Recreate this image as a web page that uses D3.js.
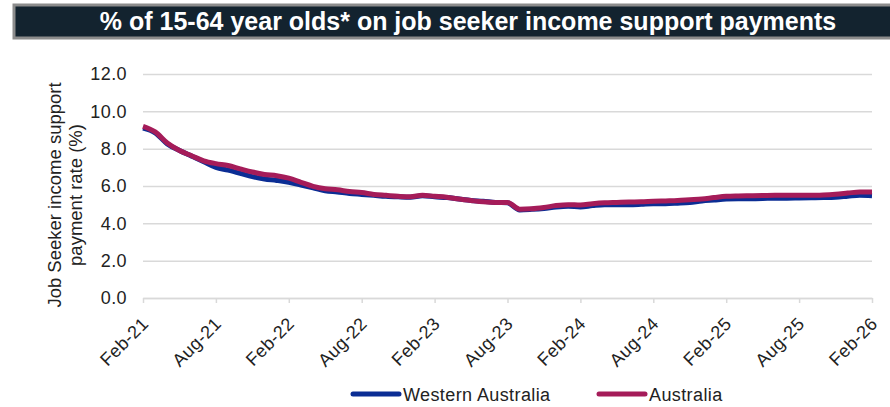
<!DOCTYPE html>
<html lang="en">
<head>
  <meta charset="UTF-8">
  <script src="https://d3js.org/d3.v7.min.js"></script>
  <title>Job seeker income support</title>
  <style>
    body { margin: 0; background: #fff; }
    text { font-family: Arial, "Liberation Sans", sans-serif; }
  </style>
</head>
<body>
  <script>
    // monthly categories
    const months = [
      "Feb-21","Mar-21","Apr-21","May-21","Jun-21","Jul-21","Aug-21","Sep-21","Oct-21","Nov-21","Dec-21","Jan-22",
      "Feb-22","Mar-22","Apr-22","May-22","Jun-22","Jul-22","Aug-22","Sep-22","Oct-22","Nov-22","Dec-22","Jan-23",
      "Feb-23","Mar-23","Apr-23","May-23","Jun-23","Jul-23","Aug-23","Sep-23","Oct-23","Nov-23","Dec-23","Jan-24",
      "Feb-24","Mar-24","Apr-24","May-24","Jun-24","Jul-24","Aug-24","Sep-24","Oct-24","Nov-24","Dec-24","Jan-25",
      "Feb-25","Mar-25","Apr-25","May-25","Jun-25","Jul-25","Aug-25","Sep-25","Oct-25","Nov-25","Dec-25","Jan-26",
      "Feb-26"
    ]

    const waValues = [
      9.10, 8.85, 8.25, 7.90, 7.60, 7.30, 7.00, 6.85, 6.68, 6.50, 6.38, 6.30,
      6.20, 6.05, 5.90, 5.75, 5.68, 5.60, 5.55, 5.50, 5.45, 5.42, 5.40, 5.48,
      5.42, 5.38, 5.30, 5.22, 5.18, 5.12, 5.10, 4.72, 4.75, 4.80, 4.88, 4.92,
      4.88, 4.95, 5.00, 5.00, 5.00, 5.02, 5.05, 5.05, 5.08, 5.12, 5.20, 5.25,
      5.30, 5.32, 5.32, 5.33, 5.35, 5.35, 5.36, 5.37, 5.38, 5.40, 5.45, 5.50,
      5.48
    ]

    const ausValues = [
      9.20, 8.90, 8.30, 7.90, 7.62, 7.35, 7.20, 7.10, 6.92, 6.75, 6.62, 6.55,
      6.42, 6.20, 5.98, 5.85, 5.80, 5.70, 5.65, 5.55, 5.50, 5.45, 5.42, 5.50,
      5.45, 5.40, 5.30, 5.22, 5.15, 5.12, 5.12, 4.76, 4.78, 4.85, 4.95, 5.00,
      4.98, 5.05, 5.10, 5.12, 5.14, 5.15, 5.18, 5.20, 5.22, 5.26, 5.30, 5.38,
      5.45, 5.47, 5.48, 5.49, 5.50, 5.50, 5.50, 5.50, 5.52, 5.56, 5.62, 5.68,
      5.68
    ]

    const xTickLabels = ["Feb-21","Aug-21","Feb-22","Aug-22","Feb-23","Aug-23","Feb-24","Aug-24","Feb-25","Aug-25","Feb-26"]
    const yTicks = [0, 2, 4, 6, 8, 10, 12]

    const seriesNames = ["Western Australia", "Australia"]
    const seriesColors = ["#0b2d94", "#a51c59"]

    /* canvas */
    const width = 890, height = 407
    const plotLeft = 143, plotRight = 872, plotTop = 74, plotBottom = 298
    const font = "Arial, 'Liberation Sans', sans-serif"

    const svg = d3.select("body").append("svg")
                  .attr("width", width)
                  .attr("height", height)

    /* title bar */
    svg.append("rect")
      .attr("x", 14).attr("y", 5)
      .attr("width", 890).attr("height", 33)
      .attr("fill", "#13232f")
      .attr("stroke", "#8c8c8c")
      .attr("stroke-width", 3)

    svg.append("text")
      .attr("x", 468).attr("y", 30)
      .attr("text-anchor", "middle")
      .attr("fill", "#fff")
      .attr("font-size", 25)
      .attr("font-weight", "bold")
      .text("% of 15-64 year olds* on job seeker income support payments")

    /* scales */
    const xScale = d3.scalePoint().domain(months).range([plotLeft, plotRight])
    const yScale = d3.scaleLinear().domain([0, 12]).range([plotBottom, plotTop])

    /* y axis + gridlines */
    const yAxis = d3.axisLeft(yScale)
                    .tickValues(yTicks)
                    .tickSize(-(plotRight - plotLeft))
                    .tickPadding(16)
                    .tickFormat(d3.format(".1f"))

    const gy = svg.append("g")
      .attr("transform", `translate(${plotLeft}, 0)`)
      .call(yAxis)
    gy.select(".domain").remove()
    gy.selectAll("line").attr("stroke", "#d9d9d9").attr("stroke-width", 1.5)
    gy.selectAll("text")
      .attr("font-size", 18).attr("fill", "#222")
      .attr("font-family", font).attr("letter-spacing", 0.4)

    /* x axis */
    const xAxis = d3.axisBottom(xScale)
                    .tickValues(xTickLabels)
                    .tickSize(5)
                    .tickSizeOuter(0)

    const gx = svg.append("g")
      .attr("transform", `translate(0, ${plotBottom})`)
      .call(xAxis)
    gx.select(".domain").attr("stroke", "#d9d9d9").attr("stroke-width", 1.5)
    gx.selectAll("line").attr("stroke", "#d9d9d9").attr("stroke-width", 1.5)
    gx.selectAll("text")
      .attr("font-size", 18)
      .attr("fill", "#222")
      .attr("font-family", font)
      .attr("letter-spacing", 0.4)
      .attr("text-anchor", "end")
      .attr("dy", null)
      .attr("y", 0)
      .attr("transform", "translate(6, 27) rotate(-45)")

    /* y axis title */
    const yTitle = svg.append("text")
      .attr("transform", "translate(61, 195) rotate(-90)")
      .attr("text-anchor", "middle")
      .attr("font-size", 18.5)
      .attr("fill", "#222")
    yTitle.append("tspan").attr("x", 0).attr("y", 0).text("Job Seeker income support")
    yTitle.append("tspan").attr("x", 0).attr("y", 21).text("payment rate (%)")

    /* lines */
    const line = d3.line()
                   .x((d, i) => xScale(months[i]))
                   .y(d => yScale(d))
                   .curve(d3.curveMonotoneX)

    ;[waValues, ausValues].forEach((vals, k) => {
      svg.append("path")
        .datum(vals)
        .attr("d", line)
        .attr("fill", "none")
        .attr("stroke", seriesColors[k])
        .attr("stroke-width", 5)
        .attr("stroke-linejoin", "round")
    })

    /* legend */
    const legendX = [352, 598]
    seriesNames.forEach((name, k) => {
      const g = svg.append("g").attr("transform", `translate(${legendX[k]}, 394)`)
      g.append("line")
        .attr("x1", 1).attr("x2", 47)
        .attr("y1", 0).attr("y2", 0)
        .attr("stroke", seriesColors[k])
        .attr("stroke-width", 5)
        .attr("stroke-linecap", "round")
      g.append("text")
        .attr("x", 51).attr("y", 6.5)
        .attr("font-size", 18)
        .attr("letter-spacing", 0.4)
        .attr("fill", "#222")
        .text(name)
    })
  </script>
</body>
</html>
